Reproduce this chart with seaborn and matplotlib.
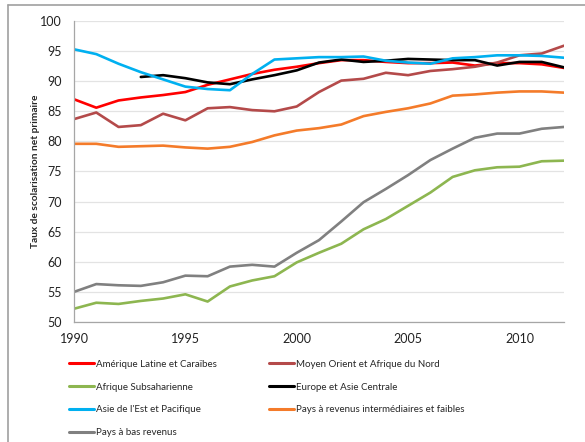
import numpy as np
import pandas as pd
import matplotlib
matplotlib.use("Agg")
import matplotlib.pyplot as plt
from matplotlib.lines import Line2D
import seaborn as sns

years = list(range(1990, 2013))

amerique_latine = [87.0, 85.6, 86.8, 87.3, 87.7, 88.2, 89.4, 90.3, 91.2, 91.9, 92.4, 93.0,
                   93.5, 93.5, 93.2, 93.0, 93.0, 93.1, 92.6, 93.0, 93.0, 92.8, 92.2]
moyen_orient = [83.7, 84.8, 82.4, 82.7, 84.6, 83.5, 85.5, 85.7, 85.2, 85.0, 85.8, 88.2,
                90.1, 90.4, 91.4, 91.0, 91.7, 92.0, 92.4, 93.1, 94.3, 94.6, 95.9]
afrique_sub = [52.2, 53.2, 53.0, 53.5, 53.9, 54.6, 53.4, 55.9, 56.9, 57.6, 59.9, 61.5,
               63.0, 65.4, 67.1, 69.3, 71.5, 74.1, 75.2, 75.7, 75.8, 76.7, 76.8]
europe_asie = [np.nan, np.nan, np.nan, 90.7, 91.0, 90.5, 89.8, 89.5, 90.3, 91.0, 91.8, 93.1,
               93.6, 93.2, 93.4, 93.7, 93.6, 93.5, 93.5, 92.6, 93.2, 93.2, 92.3]
asie_est = [95.3, 94.5, 92.9, 91.5, 90.3, 89.1, 88.7, 88.5, 91.2, 93.6, 93.8, 94.0,
            94.0, 94.1, 93.4, 93.1, 92.9, 93.8, 94.0, 94.3, 94.3, 94.2, 93.9]
pays_intermediaires = [79.6, 79.6, 79.1, 79.2, 79.3, 79.0, 78.8, 79.1, 79.9, 81.0, 81.8, 82.2,
                       82.8, 84.2, 84.9, 85.5, 86.3, 87.6, 87.8, 88.1, 88.3, 88.3, 88.1]
pays_bas = [55.0, 56.3, 56.1, 56.0, 56.6, 57.7, 57.6, 59.2, 59.5, 59.2, 61.5, 63.6,
            66.7, 69.9, 72.1, 74.4, 76.9, 78.8, 80.6, 81.3, 81.3, 82.1, 82.4]

series = {
    "Amérique Latine et Caraïbes": amerique_latine,
    "Moyen Orient et Afrique du Nord": moyen_orient,
    "Afrique Subsaharienne": afrique_sub,
    "Europe et Asie Centrale": europe_asie,
    "Asie de l'Est et Pacifique": asie_est,
    "Pays à revenus intermédiaires et faibles": pays_intermediaires,
    "Pays à bas revenus": pays_bas,
}
couleurs = {
    "Amérique Latine et Caraïbes": "#FF0000",
    "Moyen Orient et Afrique du Nord": "#B44A4A",
    "Afrique Subsaharienne": "#8DB650",
    "Europe et Asie Centrale": "#000000",
    "Asie de l'Est et Pacifique": "#00B0F0",
    "Pays à revenus intermédiaires et faibles": "#F47B2A",
    "Pays à bas revenus": "#808080",
}

rows = []
for nom, vals in series.items():
    for an, v in zip(years, vals):
        rows.append({"annee": an, "taux": v, "region": nom})
df = pd.DataFrame(rows).dropna()

sns.set_style("white")
plt.rcParams['font.family'] = ['Lato', 'DejaVu Sans']

fig = plt.figure(figsize=(5.85, 4.42), dpi=100)
ax = fig.add_axes([74 / 585, 1 - 322 / 442, (564 - 74) / 585, (322 - 21) / 442])

sns.lineplot(data=df, x="annee", y="taux", hue="region", palette=couleurs,
             hue_order=list(series.keys()), linewidth=1.9, ax=ax, legend=False)

ax.set_xlim(1990, 2012)
ax.set_ylim(50, 100)
ax.set_xticks([1990, 1995, 2000, 2005, 2010])
ax.set_xticks(years, minor=True)
ax.set_yticks(range(50, 101, 5))
ax.yaxis.grid(True, color="#E3E3E3", linewidth=0.9)
ax.set_axisbelow(True)
for s in ["top", "right"]:
    ax.spines[s].set_visible(False)
for s in ["left", "bottom"]:
    ax.spines[s].set_color("#A6A6A6")
    ax.spines[s].set_linewidth(0.9)
ax.tick_params(axis="both", which="both", direction="out", color="#A6A6A6",
               labelsize=9, labelcolor="#222222")
ax.tick_params(axis="x", which="major", length=4, pad=4)
ax.tick_params(axis="x", which="minor", length=4)
ax.tick_params(axis="y", length=4, pad=5)
ax.set_xlabel("")
ax.set_ylabel("Taux de scolarisation net primaire", fontsize=7.3, fontweight="bold",
              labelpad=0)

# legende : deux colonnes placees separement
noms = list(series.keys())
for idx, x0 in [([0, 2, 4, 6], 60), ([1, 3, 5], 260)]:
    handles = [Line2D([], [], color=couleurs[noms[i]], linewidth=2.2) for i in idx]
    labels = [noms[i] for i in idx]
    fig.legend(handles, labels, loc="upper left", bbox_to_anchor=(x0 / 585, 1 - 351 / 442),
               frameon=False, fontsize=7, handlelength=2.6, handletextpad=0.2,
               labelspacing=1.42)

# cadre gris autour du graphique
fig.add_artist(Line2D([8 / 585, 1], [1 - 5 / 442, 1 - 5 / 442], color="#A0A0A0", linewidth=1.2))
fig.add_artist(Line2D([8 / 585, 8 / 585], [0, 1 - 5 / 442], color="#A0A0A0", linewidth=1.2))

fig.savefig("out.png", dpi=100)
